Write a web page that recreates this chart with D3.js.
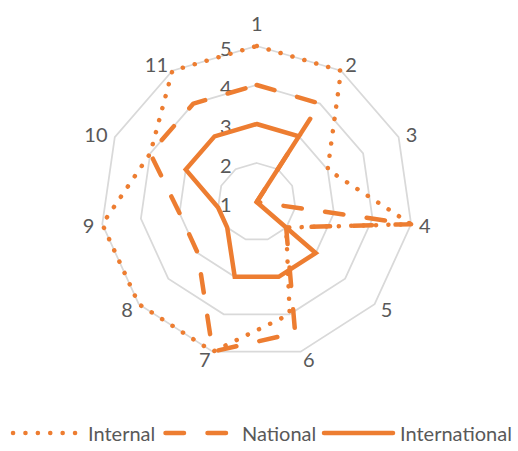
<!DOCTYPE html>
<html>
<head>
<meta charset="utf-8">
<script src="https://cdn.jsdelivr.net/npm/d3@7"></script>
<style>
  html, body { margin: 0; padding: 0; background: #ffffff; }
  svg { display: block; }
  text { font-family: Lato, "Open Sans", sans-serif; fill: #595959; }
</style>
</head>
<body>
<svg id="chart" width="518" height="451"></svg>
<script>
// Radar chart: three series over eleven numbered axes, value scale 1–5
const axes = ["1", "2", "3", "4", "5", "6", "7", "8", "9", "10", "11"];
const internal = [5, 5, 3, 5, 2, 4, 5, 5, 5, 4, 5];
const national = [4, 4, 1, 5, 2, 4.5, 5, 3, 3, 4, 4];
const international = [3, 3, 1, 1, 3, 3, 3, 2, 2, 3, 3];
const ringTicks = [1, 2, 3, 4, 5];
const seriesNames = ["Internal", "National", "International"];

const series = [
  { name: seriesNames[0], values: internal, dash: "0.1,12.3" },
  { name: seriesNames[1], values: national, dash: "18.5,23.5" },
  { name: seriesNames[2], values: international, dash: null }
];

const W = 518, H = 451;
const cx = 256.7, cy = 202, R = 156;
const orange = "#ED7D31";
const grid = "#d9d9d9";
const fontSize = 20;

const svg = d3.select("#chart");
const g = svg.append("g").attr("transform", `translate(${cx},${cy})`);

const r = d3.scaleLinear().domain([1, 5]).range([0, R]);
const angle = d3.scalePoint().domain(axes).range([0, 2 * Math.PI * (axes.length - 1) / axes.length]);

// concentric polygon gridlines
const ringLine = d3.lineRadial()
  .angle(d => angle(d))
  .curve(d3.curveLinearClosed);

g.append("g").selectAll("path")
  .data(ringTicks.filter(t => t > 1))
  .join("path")
  .attr("d", t => ringLine.radius(() => r(t))(axes))
  .attr("fill", "none")
  .attr("stroke", grid)
  .attr("stroke-width", 1.75);

// value labels along the first axis
g.append("g").selectAll("text")
  .data(ringTicks)
  .join("text")
  .attr("x", -25)
  .attr("y", t => -r(t) + 1.5)
  .attr("text-anchor", "end")
  .attr("dominant-baseline", "central")
  .attr("font-size", fontSize)
  .text(t => t);

// category labels around the outer ring
g.append("g").selectAll("text")
  .data(axes)
  .join("text")
  .each(function (d) {
    const a = angle(d);
    const s = Math.sin(a), c = Math.cos(a);
    const vx = r(5) * s, vy = -r(5) * c;
    const side = Math.abs(s) < 0.01 ? "middle" : (s > 0 ? "start" : "end");
    d3.select(this)
      .attr("x", vx + s * 8)
      .attr("y", vy - c * 8 - (side === "middle" ? 15 : 0))
      .attr("text-anchor", side)
      .attr("dominant-baseline", "central");
  })
  .attr("font-size", fontSize)
  .text(d => d);

// series outlines
const seriesLine = d3.lineRadial()
  .angle((d, i) => angle(axes[i]))
  .radius(d => r(d))
  .curve(d3.curveLinearClosed);

g.append("g").selectAll("path")
  .data(series)
  .join("path")
  .attr("d", s => seriesLine(s.values))
  .attr("fill", "none")
  .attr("stroke", orange)
  .attr("stroke-width", 4.5)
  .attr("stroke-linecap", "round")
  .attr("stroke-linejoin", s => s.dash ? "round" : "miter")
  .attr("stroke-dasharray", s => s.dash);

// legend
const legendY = 433;
const legendItems = [
  { s: series[0], x0: 13, x1: 77, tx: 88 },
  { s: series[1], x0: 165.5, x1: 229, tx: 242 },
  { s: series[2], x0: 324, x1: 393, tx: 400 }
];
const lg = svg.append("g");
legendItems.forEach(it => {
  lg.append("line")
    .attr("x1", it.x0).attr("x2", it.x1)
    .attr("y1", legendY).attr("y2", legendY)
    .attr("stroke", orange)
    .attr("stroke-width", 4.5)
    .attr("stroke-linecap", "round")
    .attr("stroke-dasharray", it.s.dash);
  lg.append("text")
    .attr("x", it.tx)
    .attr("y", legendY)
    .attr("dominant-baseline", "central")
    .attr("font-size", fontSize)
    .text(it.s.name);
});
</script>
</body>
</html>
